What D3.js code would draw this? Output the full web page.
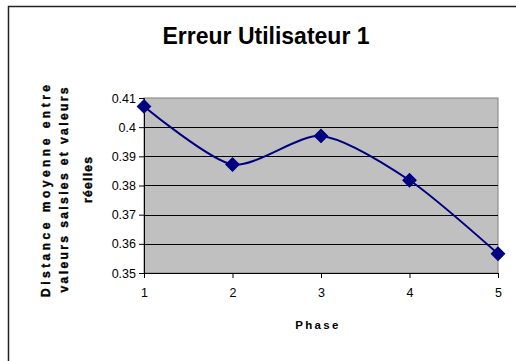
<!DOCTYPE html>
<html>
<head>
<meta charset="utf-8">
<script src="https://cdn.jsdelivr.net/npm/d3@7"></script>
<style>
  html, body { margin: 0; padding: 0; background: #fff; }
  svg { display: block; font-family: "Liberation Sans", Arial, sans-serif; }
</style>
</head>
<body>
<svg id="chart" width="516" height="361"></svg>
<script>
// Mean distance between entered and actual values, per phase
const phases = [1, 2, 3, 4, 5];
const distances = [0.4071, 0.3872, 0.3970, 0.3818, 0.3566];
const yTicks = [0.35, 0.36, 0.37, 0.38, 0.39, 0.4, 0.41];
const title = "Erreur Utilisateur 1";
const xTitle = "Phase";
const yTitleLines = ["Distance moyenne entre", "valeurs saisies et valeurs", "réelles"];

const svg = d3.select("#chart");

// Outer chart frame
svg.append("rect")
  .attr("x", 8.5).attr("y", 6.5)
  .attr("width", 540).attr("height", 400)
  .attr("fill", "#fff").attr("stroke", "#222").attr("stroke-width", 1.5);

const plot = { left: 144, right: 498, top: 98, bottom: 273 };

const x = d3.scaleLinear().domain([1, 5]).range([plot.left, plot.right]);
const y = d3.scaleLinear().domain([0.35, 0.41]).range([plot.bottom, plot.top]);

// Plot area background
svg.append("rect")
  .attr("x", plot.left).attr("y", plot.top)
  .attr("width", plot.right - plot.left).attr("height", plot.bottom - plot.top)
  .attr("fill", "#c0c0c0").attr("stroke", "#808080").attr("stroke-width", 1);

// Horizontal gridlines
svg.append("g")
  .selectAll("line")
  .data(yTicks.slice(1, -1))
  .join("line")
  .attr("x1", plot.left).attr("x2", plot.right)
  .attr("y1", d => Math.round(y(d)) + 0.5).attr("y2", d => Math.round(y(d)) + 0.5)
  .attr("stroke", "#000").attr("stroke-width", 1);

// Y axis
const yAxis = d3.axisLeft(y).tickValues(yTicks).tickSize(5).tickPadding(3)
  .tickFormat(d => String(+d.toFixed(2)));
const gy = svg.append("g").attr("transform", `translate(${plot.left},0)`).call(yAxis);
gy.select(".domain").attr("stroke", "#000");
gy.selectAll(".tick line").attr("stroke", "#000");
gy.selectAll(".tick text").attr("font-size", 12.5).attr("fill", "#000")
  .attr("font-family", "'Liberation Sans', Arial, sans-serif");

// X axis
const xAxis = d3.axisBottom(x).tickValues(phases).tickSize(5).tickPadding(10)
  .tickFormat(d3.format("d"));
const gx = svg.append("g").attr("transform", `translate(0,${plot.bottom})`).call(xAxis);
gx.select(".domain").attr("stroke", "#000");
gx.selectAll(".tick line").attr("stroke", "#000");
gx.selectAll(".tick text").attr("font-size", 12.5).attr("fill", "#000")
  .attr("font-family", "'Liberation Sans', Arial, sans-serif");

// Smoothed series line
const pts = phases.map((p, i) => [p, distances[i]]);
const line = d3.line().x(d => x(d[0])).y(d => y(d[1])).curve(d3.curveCardinal.tension(0.25));
svg.append("path")
  .datum(pts)
  .attr("d", line)
  .attr("fill", "none").attr("stroke", "#000080").attr("stroke-width", 2);

// Diamond markers
svg.append("g")
  .selectAll("path")
  .data(pts)
  .join("path")
  .attr("transform", d => `translate(${x(d[0])},${y(d[1])}) rotate(45)`)
  .attr("d", d3.symbol().type(d3.symbolSquare).size(90))
  .attr("fill", "#000080").attr("stroke", "#000080").attr("stroke-width", 1);

// Title
svg.append("text")
  .attr("x", 266).attr("y", 44)
  .attr("text-anchor", "middle")
  .attr("font-size", 23).attr("font-weight", "bold")
  .text(title);

// X axis title
svg.append("text")
  .attr("x", 318).attr("y", 329)
  .attr("text-anchor", "middle")
  .attr("font-size", 11.5).attr("font-weight", "bold")
  .attr("letter-spacing", 2.3)
  .text(xTitle);

// Y axis title (rotated, three lines)
const yLineX = [50, 68, 92];
const yLineY = [191, 190, 180];
const yLineLen = [212, 205, 46];
const yt = svg.append("g");
yTitleLines.forEach((t, i) => {
  yt.append("text")
    .attr("transform", `translate(${yLineX[i]},${yLineY[i]}) rotate(-90)`)
    .attr("text-anchor", "middle")
    .attr("font-size", 12).attr("font-weight", "bold")
    .attr("stroke", "#000").attr("stroke-width", 0.4)
    .attr("textLength", yLineLen[i]).attr("lengthAdjust", "spacing")
    .text(t);
});
</script>
</body>
</html>
